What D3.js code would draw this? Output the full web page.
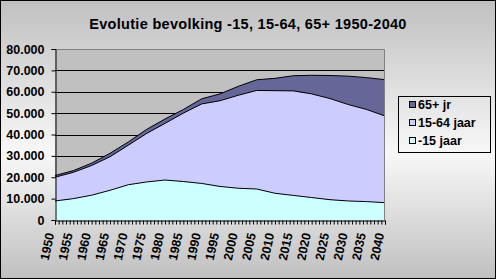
<!DOCTYPE html>
<html><head><meta charset="utf-8">
<script src="https://cdn.jsdelivr.net/npm/d3@7"></script>
<style>html,body{margin:0;padding:0;background:#fff;}svg{display:block;}</style>
</head><body>
<script>
const years = [1950,1955,1960,1965,1970,1975,1980,1985,1990,1995,2000,2005,2010,2015,2020,2025,2030,2035,2040];
const youth = [8900,10000,11600,13900,16500,17800,18700,18000,17100,15700,14850,14500,12500,11500,10500,9500,8900,8600,8100];
const adults = [11100,12300,13900,15700,18500,22700,26500,32000,37200,40100,43500,46100,48000,48900,48500,47300,45100,43100,40550];
const elderly = [800,800,1100,1600,1500,1900,2050,1700,2400,3200,4200,5000,5770,7100,8700,10800,13300,14900,17000];
const seriesNames = ["-15 jaar","15-64 jaar","65+ jr"];
const seriesColors = ["#ccffff","#ccccff","#666699"];
const yTicks = [0,10000,20000,30000,40000,50000,60000,70000,80000];
const title = "Evolutie bevolking -15, 15-64, 65+ 1950-2040";

const W=497,H=280;
const svg=d3.select("body").append("svg").attr("width",W).attr("height",H);
const defs=svg.append("defs");
const g=defs.append("linearGradient").attr("id","bg").attr("x1",0).attr("y1",0).attr("x2",0).attr("y2",1);
g.append("stop").attr("offset","0").attr("stop-color","#c0c0c0");
g.append("stop").attr("offset","0.55").attr("stop-color","#f8f8f8");
g.append("stop").attr("offset","1").attr("stop-color","#c0c0c0");
svg.append("rect").attr("x",0.5).attr("y",0.5).attr("width",495).attr("height",278).attr("fill","url(#bg)").attr("stroke","#000");

const font="'Liberation Sans', Arial, sans-serif";
svg.append("text").attr("x",248).attr("y",29).attr("text-anchor","middle")
  .attr("font-family",font).attr("font-weight","bold").attr("font-size",14.5)
  .attr("letter-spacing",0.3).text(title);

const L=55,R=385,T=49,B=220;
const x=d3.scaleLinear().domain([1950,2040]).range([L,R]);
const y=d3.scaleLinear().domain([0,80000]).range([B,T]);

svg.append("rect").attr("x",L).attr("y",T).attr("width",R-L).attr("height",B-T).attr("fill","#c0c0c0");
svg.append("g").selectAll("line").data(yTicks.filter(v=>v>0&&v<80000)).join("line")
  .attr("x1",L).attr("x2",R).attr("y1",d=>Math.round(y(d))+0.5).attr("y2",d=>Math.round(y(d))+0.5)
  .attr("stroke","#000").attr("stroke-width",1);

const rows=years.map((yr,i)=>({year:yr,a:youth[i],b:adults[i],c:elderly[i]}));
const stack=d3.stack().keys(["a","b","c"])(rows);
const area=d3.area().x(d=>x(d.data.year)).y0(d=>y(d[0])).y1(d=>y(d[1]));
const line=d3.line().x(d=>x(d.data.year)).y(d=>y(d[1]));
stack.forEach((s,i)=>{
  svg.append("path").datum(s).attr("d",area).attr("fill",seriesColors[i]);
});
stack.forEach((s,i)=>{
  svg.append("path").datum(s).attr("d",line).attr("fill","none").attr("stroke","#000").attr("stroke-width",1);
});
// plot border
svg.append("path").attr("d",`M${L},${T+0.5}H${R-0.5}V${B}`).attr("fill","none").attr("stroke","#808080");

// y axis
const ya=svg.append("g").attr("transform",`translate(${L+0.5},0)`)
  .call(d3.axisLeft(y).tickValues(yTicks).tickSize(4).tickPadding(7)
    .tickFormat(d=>d===0?"0":d3.format(",")(d).replace(/,/g,".")));
ya.select(".domain").attr("stroke","#000");
ya.selectAll(".tick line").attr("stroke","#000");
ya.selectAll("text").attr("font-family",font).attr("font-weight","bold").attr("font-size",12.5).attr("fill","#000");

// x axis
const xa=svg.append("g").attr("transform",`translate(0,${B+0.5})`)
  .call(d3.axisBottom(x).tickValues(d3.range(1950,2041,1)).tickSize(4).tickFormat(""));
xa.select(".domain").attr("stroke","#000");
xa.selectAll(".tick line").attr("stroke","#000");
svg.append("g").selectAll("text").data(d3.range(1950,2041,5)).join("text")
  .attr("transform",d=>`translate(${x(d)-5},233) rotate(-78)`)
  .attr("text-anchor","end").attr("dy","0.35em")
  .attr("font-family",font).attr("font-weight","bold").attr("font-size",12.5).text(d=>d);

// legend
const lg=svg.append("g");
lg.append("rect").attr("x",398.5).attr("y",96.5).attr("width",92).attr("height",56).attr("fill","none").attr("stroke","#000");
const legOrder=[2,1,0];
const legY=[105,123,141];
legOrder.forEach((k,j)=>{
  lg.append("rect").attr("x",409.5).attr("y",legY[j]-3.5).attr("width",6).attr("height",6)
    .attr("fill",seriesColors[k]).attr("stroke","#000");
  lg.append("text").attr("x",418).attr("y",legY[j]).attr("dy","0.35em")
    .attr("font-family",font).attr("font-weight","bold").attr("font-size",12.5).text(seriesNames[k]);
});
</script>
</body></html>
